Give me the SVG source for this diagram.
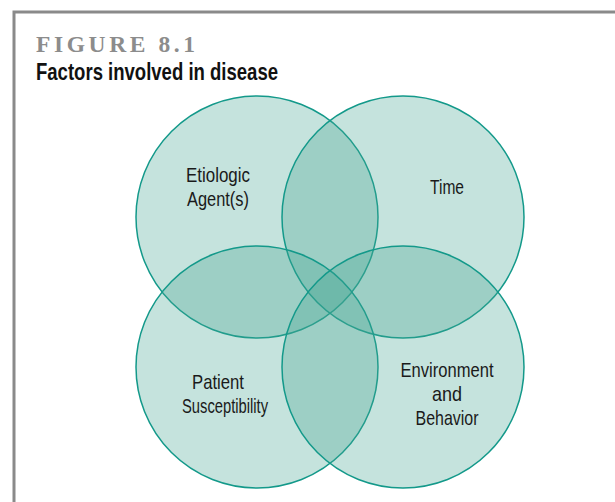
<svg xmlns="http://www.w3.org/2000/svg" width="615" height="502" viewBox="0 0 615 502">
<style>
.c{fill:rgb(68,165,145);fill-opacity:0.31;stroke:#13998a;stroke-width:1.5}
.l{font-family:"Liberation Sans",Arial,sans-serif;font-size:21px;fill:#1a1a1a;text-anchor:middle}
</style>
<rect x="0" y="0" width="615" height="502" fill="#fff"/>
<path d="M14 502 V12 H615" fill="none" stroke="#8a8a8a" stroke-width="3"/>
<text x="36" y="52" font-family="Liberation Serif,serif" font-weight="bold" font-size="23.5" fill="#8c8c8c" textLength="159" lengthAdjust="spacing">FIGURE 8.1</text>
<text x="36" y="80" font-family="Liberation Sans,Arial,sans-serif" font-weight="bold" font-size="24" fill="#111" textLength="242" lengthAdjust="spacingAndGlyphs">Factors involved in disease</text>
<g id="etiologic">
<circle class="c" cx="257" cy="217" r="121"/>
<text class="l" x="218" y="182" textLength="64" lengthAdjust="spacingAndGlyphs">Etiologic</text>
<text class="l" x="218" y="206" textLength="62" lengthAdjust="spacingAndGlyphs">Agent(s)</text>
</g>
<g id="time">
<circle class="c" cx="403" cy="217" r="121"/>
<text class="l" x="447" y="194" textLength="34" lengthAdjust="spacingAndGlyphs">Time</text>
</g>
<g id="patient">
<circle class="c" cx="257" cy="367" r="121"/>
<text class="l" x="218" y="389" textLength="52" lengthAdjust="spacingAndGlyphs">Patient</text>
<text class="l" x="225" y="413" textLength="86" lengthAdjust="spacingAndGlyphs">Susceptibility</text>
</g>
<g id="environment">
<circle class="c" cx="403" cy="367" r="121"/>
<text class="l" x="447" y="377" textLength="93" lengthAdjust="spacingAndGlyphs">Environment</text>
<text class="l" x="447" y="401" textLength="30" lengthAdjust="spacingAndGlyphs">and</text>
<text class="l" x="447" y="425" textLength="63" lengthAdjust="spacingAndGlyphs">Behavior</text>
</g>
<g id="connectors"></g>
</svg>
